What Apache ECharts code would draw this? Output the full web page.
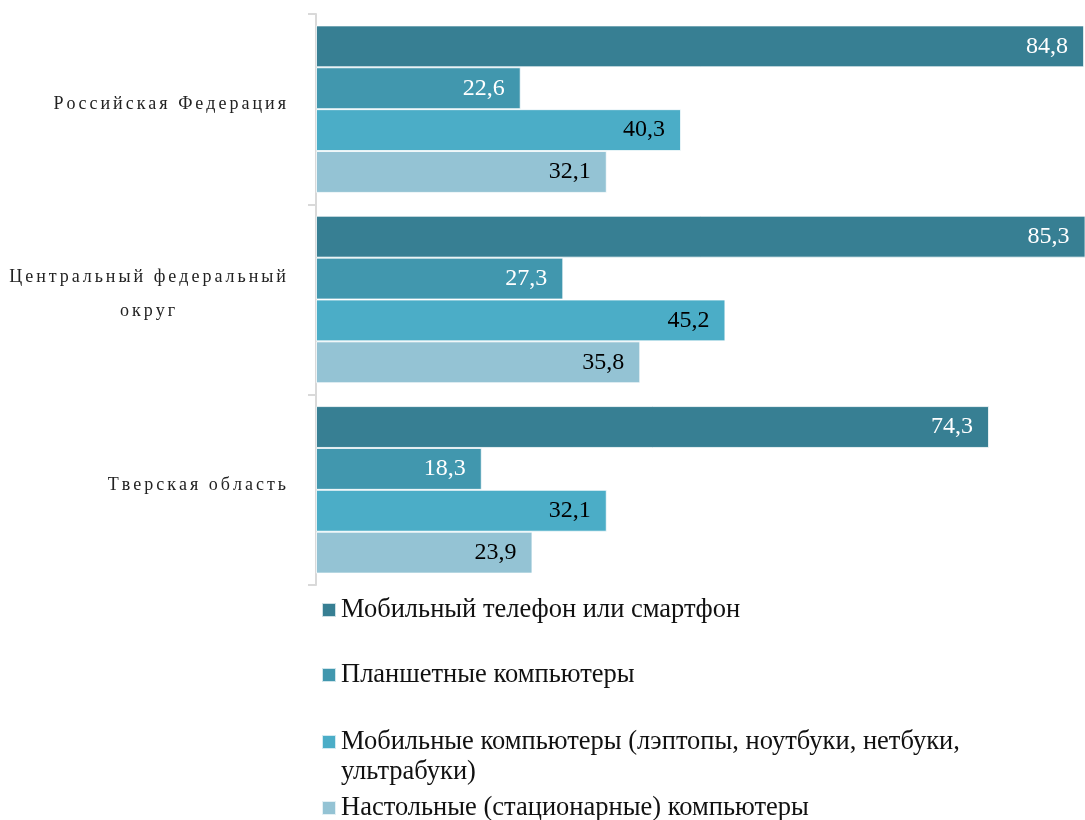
<!DOCTYPE html>
<html>
<head>
<meta charset="utf-8">
<script src="https://cdn.jsdelivr.net/npm/echarts@6/dist/echarts.min.js"></script>
<style>
  html, body { margin: 0; padding: 0; background: #fff; }
  #chart { width: 1085px; height: 820px; }
</style>
</head>
<body>
<div id="chart"></div>
<script>
// Regions (top to bottom); "\n" marks where the axis label wraps
const categories = ['Российская Федерация', 'Центральный федеральный\nокруг', 'Тверская область'];

// Share of households with each device type, %
const seriesNames = [
  'Мобильный телефон или смартфон',
  'Планшетные компьютеры',
  'Мобильные компьютеры (лэптопы, ноутбуки, нетбуки,\nультрабуки)',
  'Настольные (стационарные) компьютеры'
];
const phones   = [84.8, 85.3, 74.3];
const tablets  = [22.6, 27.3, 18.3];
const laptops  = [40.3, 45.2, 32.1];
const desktops = [32.1, 35.8, 23.9];

const colors = ['#377F93', '#4197AE', '#4BADC7', '#94C3D4'];
const labelColors = ['#ffffff', '#ffffff', '#000000', '#000000'];
const values = [phones, tablets, laptops, desktops];

const SERIF = "'Liberation Serif', 'Times New Roman', serif";

// spread the letters of axis labels apart
function spaced(line) {
  return Array.from(line).join('\u2006');
}

const series = values.map((data, i) => ({
  name: seriesNames[i],
  type: 'bar',
  data: data,
  barGap: '0%',
  barCategoryGap: '12%',
  clip: true,
  itemStyle: { color: colors[i], borderColor: 'rgba(255,255,255,0.75)', borderWidth: 1 },
  label: {
    show: true,
    position: 'insideRight',
    distance: 16,
    color: labelColors[i],
    fontFamily: SERIF,
    fontSize: 24,
    formatter: p => p.value.toFixed(1).replace('.', ',')
  }
}));

// one legend block per series so each line sits where it should
const legendTops = [595, 660, 697, 793];
const legends = seriesNames.map((name, i) => ({
  data: [name],
  orient: 'vertical',
  left: 321,
  top: legendTops[i],
  padding: 0,
  icon: 'rect',
  itemWidth: 14,
  itemHeight: 14,
  selectedMode: false,
  // the wrapped entry gets a leading blank line so its first line sits level with the marker
  formatter: n => (n.indexOf('\n') >= 0 ? '\n' + n : n),
  textStyle: {
    fontFamily: SERIF,
    fontSize: 26.5,
    color: '#111',
    lineHeight: 30
  }
}));

const chart = echarts.init(document.getElementById('chart'), null, { renderer: 'canvas' });
chart.setOption({
  animation: false,
  color: colors,
  legend: legends,
  grid: { left: 316, top: 14, right: 0, height: 571, containLabel: false, outerBoundsMode: 'none' },
  xAxis: {
    type: 'value',
    min: 0,
    max: 84.9,
    show: false,
    splitLine: { show: false }
  },
  yAxis: {
    type: 'category',
    inverse: true,
    data: categories,
    axisLine: { show: true, lineStyle: { color: '#d9d9d9', width: 2 } },
    axisTick: { show: true, length: 8, lineStyle: { color: '#d9d9d9', width: 2 } },
    axisLabel: {
      margin: 30,
      padding: [0, 0, 10, 0],
      formatter: v => v.split('\n').map(l => '{c|' + spaced(l) + '}').join('\n'),
      rich: {
        c: {
          fontFamily: SERIF,
          fontSize: 18,
          color: '#222',
          align: 'center',
          lineHeight: 34
        }
      }
    }
  },
  series: series
});
</script>
</body>
</html>
